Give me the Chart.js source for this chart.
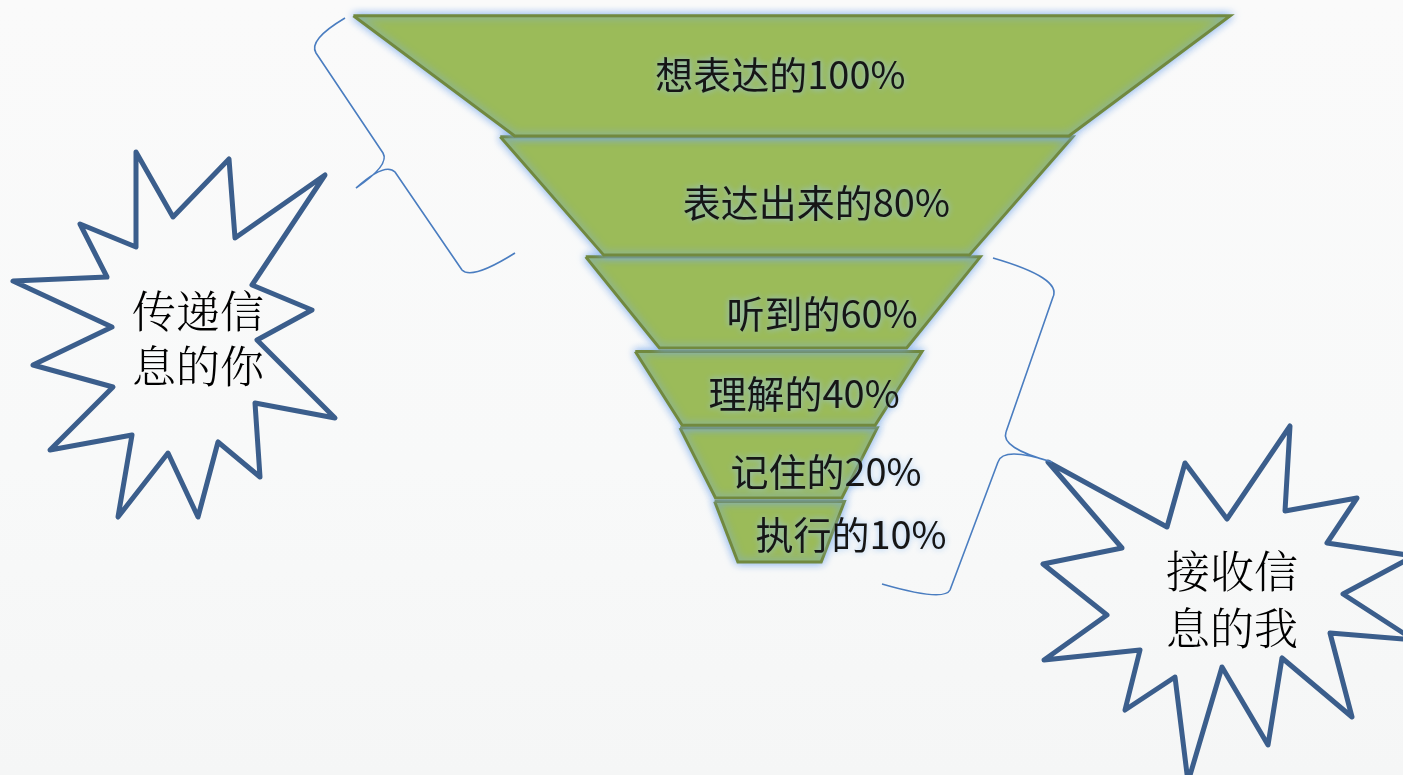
<!DOCTYPE html>
<html lang="zh-CN">
<head>
<meta charset="utf-8">
<title>沟通漏斗</title>
<script src="https://cdn.jsdelivr.net/npm/chart.js@4.4.1/dist/chart.umd.min.js"></script>
<style>
  html, body { margin: 0; padding: 0; }
  body {
    width: 1403px; height: 775px; overflow: hidden;
    background: linear-gradient(180deg, #fafafa 0%, #f8f9f9 60%, #f5f6f6 100%);
  }
  #wrap { position: relative; width: 1403px; height: 775px; }
</style>
</head>
<body>
<div id="wrap"><canvas id="myChart"></canvas></div>
<script>
// funnel stages (x in % of the top width, y in the same unit from the top)
const stages = ['想表达的', '表达出来的', '听到的', '理解的', '记住的', '执行的'];
const percents = [100, 80, 60, 40, 20, 10];
const topWidths = [100, 65.3, 45.0, 32.7, 22.5, 14.8];
const bottomWidths = [63.2, 41.7, 28.2, 22.0, 14.4, 9.5];
const bandTops = [1.8, 15.6, 29.3, 40.1, 48.8, 57.2];
const bandBottoms = [15.5, 29.1, 39.7, 48.5, 56.8, 64.1];
const bandCenters = [0.2, -0.4, -0.8, -1.3, -1.3, -1.2];

// the two callouts
const calloutTexts = [['传递信', '息的你'], ['接收信', '息的我']];

function stageOutline(i) {
  const c = bandCenters[i];
  const t = topWidths[i] / 2;
  const b = bottomWidths[i] / 2;
  return [
    {x: c - t, y: bandTops[i]},
    {x: c + t, y: bandTops[i]},
    {x: c + b, y: bandBottoms[i]},
    {x: c - b, y: bandBottoms[i]},
    {x: c - t, y: bandTops[i]}
  ];
}

const datasets = stages.map(function (s, i) {
  return {
    label: s + percents[i] + '%',
    data: stageOutline(i),
    showLine: true,
    fill: 'shape',
    backgroundColor: '#9bbb59',
    borderColor: '#71893f',
    borderWidth: 3,
    borderJoinStyle: 'miter',
    pointRadius: 0,
    tension: 0
  };
});

// label placement inside the bands (layout only)
const labelShiftX = [-1.3, 3.4, 4.45, 2.9, 5.4, 8.15];
const labelY = [8.55, 23.15, 35.8, 44.9, 53.8, 61.0];

// decoration outlines in sheet units (sx/sy scales)
const leftStar = [[136,152],[173,217],[229,159],[235,238],[325,175],[252,285],[312,310],[257,340],
  [335,418],[255,403],[260,477],[218,442],[198,517],[168,453],[118,517],[132,435],[50,450],[113,387],
  [33,365],[112,327],[13,281],[107,277],[80,224],[136,247]];
const rightStar = [[1048,462],[1167,527],[1185,463],[1227,519],[1290,426],[1285,511],[1357,498],[1327,543],
  [1414,556],[1343,594],[1414,640],[1330,633],[1352,717],[1282,658],[1268,745],[1222,667],[1188,782],
  [1175,677],[1125,710],[1140,650],[1044,660],[1107,615],[1043,564],[1122,548]];

const glowPlugin = {
  id: 'glow',
  beforeDatasetsDraw(chart) {
    const ctx = chart.ctx;
    ctx.save();
    ctx.shadowColor = 'rgba(120,170,235,0.95)';
    ctx.shadowBlur = 9;
  },
  afterDatasetsDraw(chart) {
    chart.ctx.restore();
  }
};

const labelPlugin = {
  id: 'funnelLabels',
  afterDatasetsDraw(chart) {
    const ctx = chart.ctx;
    const x = chart.scales.x, y = chart.scales.y;
    ctx.save();
    ctx.font = '38px "Noto Sans CJK SC", "Microsoft YaHei", sans-serif';
    ctx.textAlign = 'center';
    ctx.textBaseline = 'middle';
    ctx.fillStyle = '#161616';
    ctx.shadowColor = 'rgba(150,195,245,0.9)';
    ctx.shadowBlur = 6;
    stages.forEach(function (s, i) {
      ctx.fillText(s + percents[i] + '%',
        x.getPixelForValue(bandCenters[i] + labelShiftX[i]),
        y.getPixelForValue(labelY[i]));
    });
    ctx.restore();
  }
};

const calloutPlugin = {
  id: 'callouts',
  afterDraw(chart) {
    const ctx = chart.ctx;
    const sx = chart.scales.sx, sy = chart.scales.sy;
    const px = v => sx.getPixelForValue(v), py = v => sy.getPixelForValue(v);

    ctx.save();
    // stars
    ctx.strokeStyle = '#3b5e8c';
    ctx.lineWidth = 5;
    ctx.lineJoin = 'round';
    [leftStar, rightStar].forEach(function (pts) {
      ctx.beginPath();
      pts.forEach(function (p, k) {
        if (k === 0) ctx.moveTo(px(p[0]), py(p[1]));
        else ctx.lineTo(px(p[0]), py(p[1]));
      });
      ctx.closePath();
      ctx.stroke();
    });

    // braces
    ctx.strokeStyle = '#4a7dc0';
    ctx.lineWidth = 1.6;
    ctx.lineJoin = 'round';
    ctx.beginPath();
    ctx.moveTo(px(345), py(18));
    ctx.quadraticCurveTo(px(308), py(40), px(316), py(53));
    ctx.lineTo(px(383), py(153));
    ctx.quadraticCurveTo(px(390), py(165), px(356), py(188));
    ctx.moveTo(px(356), py(188));
    ctx.quadraticCurveTo(px(385), py(162), px(395), py(172));
    ctx.lineTo(px(462), py(270));
    ctx.quadraticCurveTo(px(472), py(280), px(515), py(253));
    ctx.stroke();

    ctx.beginPath();
    ctx.moveTo(px(993), py(258));
    ctx.quadraticCurveTo(px(1062), py(278), px(1053), py(297));
    ctx.lineTo(px(1006), py(432));
    ctx.quadraticCurveTo(px(1000), py(448), px(1052), py(462));
    ctx.moveTo(px(1052), py(462));
    ctx.quadraticCurveTo(px(1003), py(446), px(998), py(462));
    ctx.lineTo(px(950), py(590));
    ctx.quadraticCurveTo(px(944), py(602), px(882), py(584));
    ctx.stroke();

    // callout texts
    ctx.fillStyle = '#000000';
    ctx.font = '300 44px "Noto Serif CJK SC", "Noto Sans CJK SC", serif';
    ctx.textAlign = 'center';
    ctx.textBaseline = 'middle';
    const centers = [[198, 311, 366], [1232, 571, 628]];
    calloutTexts.forEach(function (lines, k) {
      ctx.fillText(lines[0], px(centers[k][0]), py(centers[k][1]));
      ctx.fillText(lines[1], px(centers[k][0]), py(centers[k][2]));
    });
    ctx.restore();
  }
};

const config = {
  type: 'scatter',
  data: { datasets: datasets },
  options: {
    responsive: true,
    maintainAspectRatio: false,
    animation: false,
    layout: { padding: 0 },
    scales: {
      x: { type: 'linear', min: -90.1, max: 69.9, display: false },
      y: { type: 'linear', min: 0, max: 88.4, reverse: true, display: false },
      sx: { type: 'linear', axis: 'x', min: 0, max: 1403, display: false },
      sy: { type: 'linear', axis: 'y', min: 0, max: 775, reverse: true, display: false }
    },
    plugins: {
      legend: { display: false },
      tooltip: { enabled: false },
      title: { display: false }
    }
  },
  plugins: [glowPlugin, labelPlugin, calloutPlugin]
};

const myChart = new Chart(document.getElementById('myChart'), config);
</script>
</body>
</html>
